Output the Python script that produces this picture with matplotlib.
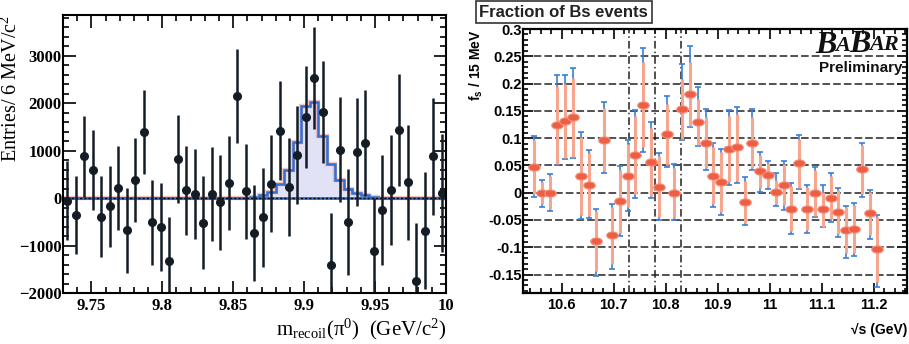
import numpy as np
import matplotlib
matplotlib.use("Agg")
import matplotlib.pyplot as plt
from matplotlib.ticker import MultipleLocator, FuncFormatter
from matplotlib.markers import MarkerStyle
from matplotlib.transforms import Affine2D

plt.rcParams['mathtext.fontset'] = 'custom'
plt.rcParams['mathtext.rm'] = 'Liberation Serif'
plt.rcParams['mathtext.it'] = 'Liberation Serif:italic'
plt.rcParams['mathtext.bf'] = 'Liberation Sans:bold'
plt.rcParams['hatch.color'] = '#b9b9e6'
plt.rcParams['hatch.linewidth'] = 0.6

# ---- left panel: recoil mass, 6 MeV bins ----
m_x = [9.733, 9.739, 9.745, 9.751, 9.757, 9.763, 9.769, 9.775, 9.781, 9.787,
       9.793, 9.799, 9.805, 9.811, 9.817, 9.823, 9.829, 9.835, 9.841, 9.847,
       9.853, 9.859, 9.865, 9.871, 9.877, 9.883, 9.889, 9.895, 9.901, 9.907,
       9.913, 9.919, 9.925, 9.931, 9.937, 9.943, 9.949, 9.955, 9.961, 9.967,
       9.973, 9.979, 9.985, 9.991, 9.997]
m_y = [-56, -365, 877, 597, -393, -175, 218, -680, 386, 1390,
       -505, -610, -1333, 821, 161, 84, -520, 91, -84, 323,
       2148, 140, -730, -407, 302, 1418, 232, 906, 1705, 2520,
       1818, -1404, 1018, -505, 968, 1151, -1110, -246, 175, 1440,
       337, -1740, -688, 877, 105]
m_err = [830, 820, 860, 845, 850, 845, 885, 895, 880, 890,
         895, 930, 935, 935, 940, 950, 975, 985, 1000, 990,
         990, 1005, 1010, 1040, 1020, 1040, 1035, 1025, 1070, 1075,
         1075, 1090, 1100, 1115, 1140, 1115, 1115, 1160, 1160, 1180,
         1210, 1215, 1230, 1230, 1240]

sig_edges = [9.730, 9.856, 9.862, 9.868, 9.874, 9.880, 9.886, 9.892, 9.898, 9.904,
             9.910, 9.916, 9.922, 9.928, 9.934, 9.940, 9.946, 9.952, 9.958, 10.000]
sig_vals = [0, 5, 20, 56, 126, 302, 582, 1179, 1937, 2021,
            1298, 723, 372, 196, 112, 56, 21, 8, 0]

# ---- right panel: fraction of Bs events vs sqrt(s) ----
fs_x = [10.547, 10.562, 10.577, 10.592, 10.607, 10.622, 10.637, 10.652, 10.667, 10.682,
        10.697, 10.712, 10.727, 10.742, 10.757, 10.772, 10.787, 10.802, 10.817, 10.832,
        10.847, 10.862, 10.877, 10.892, 10.907, 10.922, 10.937, 10.952, 10.967, 10.982,
        10.997, 11.012, 11.027, 11.042, 11.057, 11.072, 11.087, 11.102, 11.117, 11.132,
        11.147, 11.162, 11.177, 11.192, 11.207]
fs_y = [0.047, -0.001, 0.000, 0.124, 0.131, 0.138, 0.031, 0.015, -0.088, 0.097,
        -0.078, -0.016, 0.031, 0.069, 0.161, 0.056, 0.011, 0.107, 0.000, 0.153,
        0.181, 0.129, 0.092, 0.031, 0.020, 0.080, 0.083, -0.017, 0.092, 0.039,
        0.032, 0.001, 0.015, -0.029, 0.054, -0.029, 0.000, -0.030, -0.009, -0.035,
        -0.069, -0.066, 0.043, -0.038, -0.104]
fs_hi = [0.057, 0.024, 0.034, 0.091, 0.085, 0.091, 0.080, 0.064, 0.058, 0.070,
         0.057, 0.065, 0.066, 0.083, 0.104, 0.073, 0.061, 0.071, 0.052, 0.083,
         0.087, 0.064, 0.061, 0.060, 0.060, 0.072, 0.075, 0.045, 0.061, 0.036,
         0.026, 0.035, 0.043, 0.047, 0.052, 0.044, 0.048, 0.045, 0.046, 0.043,
         0.045, 0.048, 0.049, 0.043, 0.063]
fs_lo = [0.054, 0.025, 0.034, 0.074, 0.070, 0.075, 0.079, 0.062, 0.065, 0.061,
         0.061, 0.064, 0.065, 0.078, 0.087, 0.066, 0.061, 0.060, 0.050, 0.057,
         0.060, 0.044, 0.050, 0.057, 0.060, 0.065, 0.066, 0.042, 0.050, 0.037,
         0.025, 0.025, 0.046, 0.046, 0.048, 0.044, 0.045, 0.033, 0.044, 0.046,
         0.051, 0.050, 0.050, 0.046, 0.069]
fs_stat = [0.050, 0.020, 0.030, 0.072, 0.068, 0.072, 0.072, 0.058, 0.055, 0.058,
           0.052, 0.058, 0.058, 0.072, 0.078, 0.062, 0.056, 0.056, 0.046, 0.055,
           0.058, 0.042, 0.046, 0.052, 0.055, 0.060, 0.062, 0.038, 0.046, 0.031,
           0.022, 0.022, 0.038, 0.042, 0.045, 0.040, 0.042, 0.032, 0.040, 0.040,
           0.042, 0.044, 0.045, 0.040, 0.060]
thresholds = [10.730, 10.780, 10.830]

fmt_g = FuncFormatter(lambda v, p: '%g' % round(v, 4))

fig = plt.figure(figsize=(9.09, 3.44), dpi=100)

# left
ax1 = fig.add_axes([0.0693, 0.148, 0.4213, 0.808])
ax1.stairs(sig_vals, sig_edges, fill=True, facecolor='#e2e2f6', edgecolor='none', hatch='------')
ax1.stairs(sig_vals, sig_edges, color='#f08080', lw=3.2, alpha=0.45, baseline=None)
ax1.stairs(sig_vals, sig_edges, color='#2f6fd6', lw=1.8, baseline=None)
ax1.axhline(0, color='#2f6fd6', lw=2.0)
ax1.axhline(0, color='black', lw=1.0, ls=(0, (1.5, 1.5)))
ax1.errorbar(m_x, m_y, yerr=m_err, fmt='o', color='#141c26', ms=5.5, elinewidth=1.8, capsize=0)
ax1.set_xlim(9.73, 10.0)
ax1.set_ylim(-2000, 3850)
ax1.xaxis.set_major_locator(MultipleLocator(0.05))
ax1.xaxis.set_minor_locator(MultipleLocator(0.01))
ax1.yaxis.set_major_locator(MultipleLocator(1000))
ax1.yaxis.set_minor_locator(MultipleLocator(200))
ax1.xaxis.set_major_formatter(fmt_g)
ax1.tick_params(which='both', direction='in', top=True, right=True, width=1.2, labelsize=12)
ax1.tick_params(which='major', length=9)
ax1.tick_params(which='minor', length=4.5)
for lab in ax1.get_xticklabels() + ax1.get_yticklabels():
    lab.set_fontfamily('Liberation Serif')
    lab.set_fontweight('bold')
ax1.tick_params(axis='y', pad=1)
for s in ax1.spines.values():
    s.set_linewidth(1.5)
ax1.set_ylabel('Entries/ 6 MeV/c$^2$', loc='top', fontsize=14.5, family='Liberation Serif')
ax1.yaxis.set_label_coords(-0.108, 1.0)
ax1.set_xlabel(r'$\mathrm{m_{recoil}(\pi^0)}$  (GeV/c$^2$)', loc='right', fontsize=15,
               family='Liberation Serif', labelpad=2)

# right
ax2 = fig.add_axes([0.5754, 0.148, 0.4224, 0.7676])
for yv in np.arange(-0.15, 0.26, 0.05):
    ax2.axhline(yv, color='#222222', lw=1.1, ls=(0, (5, 2)))
for xv in thresholds:
    ax2.axvline(xv, color='#222222', lw=1.1, ls=(0, (5, 2, 1, 2)))
ell = MarkerStyle('o', transform=Affine2D().scale(1.6, 1.0))
ax2.errorbar(fs_x, fs_y, yerr=[fs_lo, fs_hi], fmt='none', ecolor='#3b7fd8', elinewidth=1.2,
             capsize=2.2, capthick=1.2)
ax2.errorbar(fs_x, fs_y, yerr=fs_stat, fmt='none', ecolor='#f6a58f', elinewidth=2.2, capsize=0)
ax2.plot(fs_x, fs_y, ls='none', marker=ell, ms=5.2, color='#ee5e44', mec='#f4907a', mew=0.8)
ax2.set_xlim(10.526, 11.264)
ax2.set_ylim(-0.184, 0.3)
ax2.xaxis.set_major_locator(MultipleLocator(0.1))
ax2.xaxis.set_minor_locator(MultipleLocator(0.02))
ax2.yaxis.set_major_locator(MultipleLocator(0.05))
ax2.yaxis.set_minor_locator(MultipleLocator(0.01))
ax2.xaxis.set_major_formatter(fmt_g)
ax2.yaxis.set_major_formatter(fmt_g)
ax2.tick_params(which='both', direction='in', top=True, right=True, width=1.2, labelsize=10.5)
ax2.tick_params(which='major', length=7)
ax2.tick_params(which='minor', length=3.5)
ax2.tick_params(axis='y', pad=1)
for lab in ax2.get_xticklabels() + ax2.get_yticklabels():
    lab.set_fontfamily('Liberation Sans')
    lab.set_fontweight('bold')
for s in ax2.spines.values():
    s.set_linewidth(1.6)
ax2.set_ylabel(r'$\mathbf{f_s}$ / 15 MeV', loc='top', fontsize=10, family='Liberation Sans',
               fontweight='bold', labelpad=2)
ax2.set_xlabel('√s (GeV)', loc='right', fontsize=10, family='Liberation Sans',
               fontweight='bold', labelpad=8)

fig.text(0.5275, 0.965, 'Fraction of Bs events', fontsize=12, family='Liberation Sans',
         fontweight='bold', ha='left', va='center', color='#222222',
         bbox=dict(boxstyle='square,pad=0.22', fc='white', ec='#333333', lw=1.2))

# BABAR logo
logo = dict(family='Liberation Serif', style='italic', fontweight='bold', color='#111111')
t1 = ax2.text(0.76, 0.91, 'B', transform=ax2.transAxes, fontsize=23, va='baseline', **logo)
t2 = ax2.annotate('A', xy=(0.95, 0.14), xycoords=t1, fontsize=16, va='bottom', **logo)
t3 = ax2.annotate('B', xy=(0.95, -0.16), xycoords=t2, fontsize=23, va='bottom', **logo)
t4 = ax2.annotate('AR', xy=(0.95, 0.14), xycoords=t3, fontsize=16, va='bottom', **logo)
ax2.text(0.987, 0.878, 'Preliminary', transform=ax2.transAxes, fontsize=11,
         family='Liberation Sans', fontweight='bold', ha='right', va='top', color='#111111')

fig.savefig('out.png', dpi=100)
